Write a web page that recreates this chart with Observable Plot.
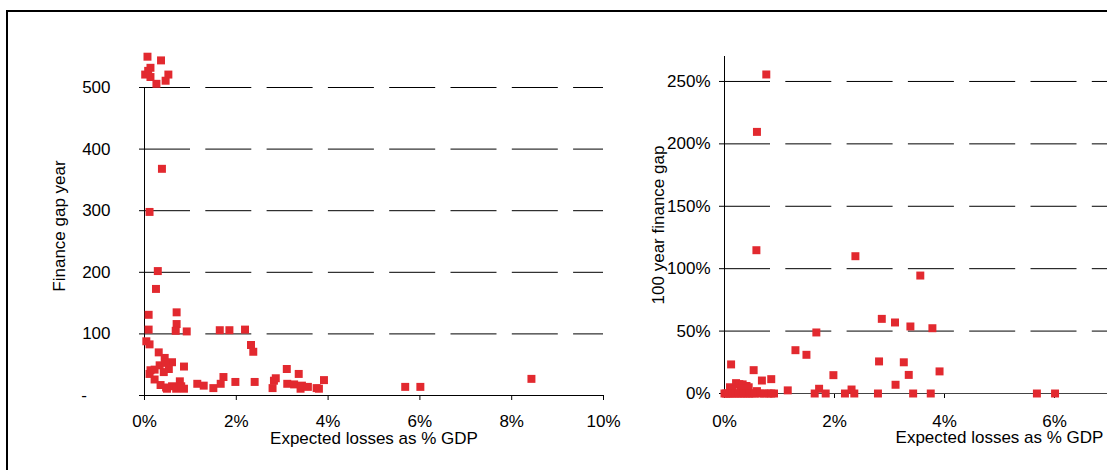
<!DOCTYPE html>
<html>
<head>
<meta charset="utf-8">
<script src="https://cdn.jsdelivr.net/npm/d3@7"></script>
<script src="https://cdn.jsdelivr.net/npm/@observablehq/plot@0.6"></script>
<style>
  html, body { margin: 0; padding: 0; background: #fff; overflow: hidden; }
  #wrap { position: relative; width: 1107px; height: 470px; overflow: hidden; background: #fff; }
  #frame { position: absolute; left: 6px; top: 10px; width: 1300px; height: 700px; border: 2px solid #000; box-sizing: border-box; }
  #left { position: absolute; left: 0; top: 0; width: 620px; height: 470px; }
  #right { position: absolute; left: 620px; top: 0; width: 680px; height: 470px; }
  svg { overflow: visible; max-width: none !important; }
</style>
</head>
<body>
<div id="wrap">
  <div id="frame"></div>
  <div id="left"></div>
  <div id="right"></div>
</div>
<script>
// ---------- Left panel: Finance gap year vs expected losses (% GDP) ----------
const leftLoss = [0.065, 0.36, 0.13, 0.015, 0.13, 0.08, 0.52, 0.46, 0.26,
  0.38, 0.11, 0.29, 0.25,
  0.09, 0.70, 0.70, 0.09, 0.68, 0.92, 1.64, 1.85, 2.19, 2.32, 2.37,
  0.04, 0.11, 0.31, 0.44, 0.60, 0.33, 0.46, 0.53, 0.42, 0.13, 0.11, 0.22, 0.86,
  0.22, 0.35, 0.49, 0.60, 0.69, 0.77, 0.80, 0.86, 0.47,
  1.15, 1.29, 1.50, 1.66, 1.72, 1.98, 2.40, 2.79, 2.82, 2.86,
  3.10, 3.11, 3.26, 3.36, 3.40, 3.43, 3.56, 3.75, 3.80, 3.91,
  5.68, 6.01, 8.43];
const leftGap = [550, 544, 532, 521, 517, 527, 521, 511, 506,
  368, 298, 202, 173,
  131, 135, 116, 107, 105, 104, 106, 106, 107, 82, 71,
  88, 83, 70, 61, 54, 49, 53, 43, 38, 41, 35, 42, 47,
  26, 17, 11, 15, 11, 23, 15, 11, 13,
  19, 16, 12, 19, 30, 22, 22, 12, 24, 28,
  43, 19, 18, 35, 11, 16, 14, 12, 11, 25,
  14, 14, 27];
const leftYTicks = [0, 100, 200, 300, 400, 500];
const leftYTickLabels = ["-\u00a0\u00a0\u00a0\u00a0\u00a0", "100", "200", "300", "400", "500"];
const leftXTicks = [0, 2, 4, 6, 8, 10];
const leftYTitle = "Finance gap year";

// ---------- Right panel: 100 year finance gap vs expected losses (% GDP) ----------
const rightLoss = [0.76, 0.59, 0.58, 2.38, 3.56, 2.86, 3.10, 3.38, 3.78, 1.67,
  1.29, 1.49, 0.12, 0.53, 2.81, 3.26, 3.35, 3.91, 1.98, 0.85, 0.68, 3.11,
  1.15, 1.72, 2.31,
  0.10, 0.21, 0.27, 0.33, 0.40, 0.44, 0.59, 0.15, 0.30,
  0.00, 0.03, 0.06, 0.10, 0.15, 0.20, 0.25, 0.30, 0.35, 0.40, 0.45, 0.50, 0.55,
  0.65, 0.72, 0.80, 0.85, 0.90, 1.64, 1.84, 2.19, 2.36, 2.79, 3.43, 3.75, 5.68, 6.01];
const rightGap = [255.6, 209.6, 114.8, 110, 94.5, 59.8, 56.9, 53.7, 52.3, 48.9,
  34.7, 31, 23.3, 18.7, 25.7, 25, 14.9, 17.7, 14.7, 11.5, 10.4, 7,
  2.5, 3.8, 3.2,
  5, 8.3, 7.5, 7.3, 6, 5, 1.9, 3, 4,
  0, 0, 0, 0, 0, 0, 0, 0, 0, 0, 0, 0, 0,
  0, 0, 0, 0, 0, 0, 0, 0, 0, 0, 0, 0, 0, 0];
const rightYTicks = [0, 50, 100, 150, 200, 250];
const rightXTicks = [0, 2, 4, 6, 8, 10];
const rightYTitle = "100 year finance gap";

const xTitle = "Expected losses as % GDP";

const RED = "#e2292f";
const FONT = "'Liberation Sans', Arial, Helvetica, sans-serif";

const leftData = leftLoss.map((x, i) => ({x, y: leftGap[i]}));
const rightData = rightLoss.map((x, i) => ({x, y: rightGap[i]}));

const style = {fontFamily: FONT, fontSize: "17px", color: "#000", background: "transparent", overflow: "visible", maxWidth: "none"};

const left = Plot.plot({
  width: 620, height: 470,
  marginLeft: 144, marginRight: 17, marginTop: 87, marginBottom: 75,
  x: {domain: [0, 10], axis: null},
  y: {domain: [0, 500], axis: null},
  style,
  marks: [
    Plot.ruleY(leftYTicks.filter(d => d > 0), {x1: 0, x2: 10, stroke: "#000", strokeWidth: 1, strokeDasharray: "46,15.3"}),
    Plot.axisY({ticks: leftYTicks, tickSize: 5, tickPadding: 29, tickFormat: (d) => leftYTickLabels[leftYTicks.indexOf(d)], label: null}),
    Plot.axisX({ticks: leftXTicks, tickSize: 5, tickPadding: 14, tickFormat: d => d + "%", label: null}),
    Plot.ruleX([0], {y1: 0, y2: 500, stroke: "#000"}),
    Plot.ruleY([0], {x1: 0, x2: 10, stroke: "#000"}),
    Plot.dot(leftData, {x: "x", y: "y", symbol: "square", r: 4.5, fill: RED, stroke: null}),
    Plot.text([xTitle], {frameAnchor: "bottom", textAnchor: "middle", lineAnchor: "bottom", dy: 48, fill: "#000"}),
    Plot.text([leftYTitle], {frameAnchor: "left", textAnchor: "middle", lineAnchor: "bottom", rotate: -90, dx: -80, dy: -15.5, fill: "#000"})
  ]
});
document.getElementById("left").appendChild(left);

const right = Plot.plot({
  width: 680, height: 470,
  marginLeft: 104, marginRight: 26, marginTop: 56, marginBottom: 77,
  x: {domain: [0, 10], axis: null},
  y: {domain: [0, 270], axis: null},
  style,
  marks: [
    Plot.ruleY(rightYTicks.filter(d => d > 0), {x1: 0, x2: 10, stroke: "#000", strokeWidth: 1, strokeDasharray: "46,15.3"}),
    Plot.axisY({ticks: rightYTicks, tickSize: 5, tickPadding: 9, tickFormat: d => d + "%", label: null}),
    Plot.axisX({ticks: rightXTicks, tickSize: 5, tickPadding: 16, tickFormat: d => d + "%", label: null}),
    Plot.ruleX([0], {y1: 0, y2: 270, stroke: "#000"}),
    Plot.ruleY([0], {x1: 0, x2: 10, stroke: "#444"}),
    Plot.dot(rightData, {x: "x", y: "y", symbol: "square", r: 4.5, fill: RED, stroke: null}),
    Plot.text([xTitle], {frameAnchor: "bottom", textAnchor: "middle", lineAnchor: "bottom", dy: 49.5, fill: "#000"}),
    Plot.text([rightYTitle], {frameAnchor: "left", textAnchor: "middle", lineAnchor: "bottom", rotate: -90, dx: -61, dy: 0, fill: "#000"})
  ]
});
document.getElementById("right").appendChild(right);
</script>
</body>
</html>
